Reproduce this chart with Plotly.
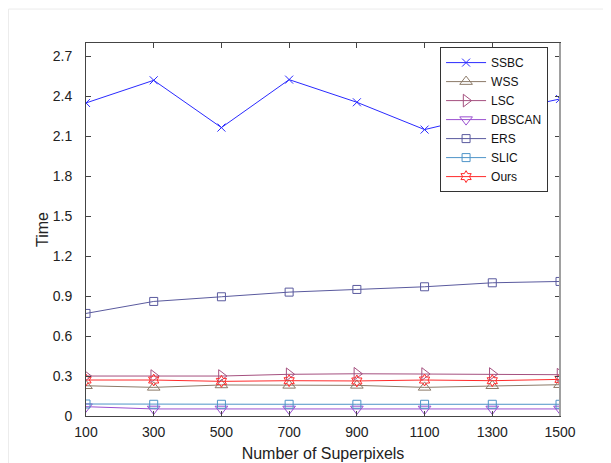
import plotly.graph_objects as go

x_vals = [100, 300, 500, 700, 900, 1100, 1300, 1500]
ssbc = [2.35, 2.52, 2.165, 2.525, 2.355, 2.15, 2.27, 2.38]
wss = [0.227, 0.215, 0.233, 0.23, 0.23, 0.215, 0.227, 0.235]
lsc = [0.30, 0.30, 0.30, 0.313, 0.317, 0.315, 0.315, 0.31]
dbscan = [0.07, 0.053, 0.053, 0.053, 0.053, 0.053, 0.053, 0.053]
ers = [0.77, 0.86, 0.895, 0.93, 0.95, 0.97, 1.0, 1.01]
slic = [0.09, 0.088, 0.088, 0.088, 0.088, 0.088, 0.088, 0.088]
ours = [0.27, 0.27, 0.26, 0.265, 0.263, 0.27, 0.265, 0.275]
y_ticks = [0, 0.3, 0.6, 0.9, 1.2, 1.5, 1.8, 2.1, 2.4, 2.7]
y_tick_text = ["0", "0.3", "0.6", "0.9", "1.2", "1.5", "1.8", "2.1", "2.4", "2.7"]

series = [
    ("SSBC", ssbc, "#2a2aff", "x-thin-open", 8),
    ("WSS", wss, "#8c7a68", "triangle-up-open", 11),
    ("LSC", lsc, "#a5507f", "triangle-right-open", 11),
    ("DBSCAN", dbscan, "#9a4fd0", "triangle-down-open", 11),
    ("ERS", ers, "#5a5a9e", "square-open", 8),
    ("SLIC", slic, "#4f94c8", "square-open", 8),
    ("Ours", ours, "#ff2a2a", "hexagram-open", 9),
]

FONT = "Liberation Sans, Arial, sans-serif"

fig = go.Figure()
for name, ys, color, sym, size in series:
    fig.add_trace(go.Scatter(
        x=x_vals, y=ys, name=name, mode="lines+markers",
        line=dict(color=color, width=1),
        marker=dict(symbol=sym, size=size, color=color, line=dict(color=color, width=1)),
    ))

axis_common = dict(
    showgrid=False, zeroline=False, showline=True, linecolor="#444", linewidth=1,
    mirror="ticks", ticks="inside", ticklen=5, tickcolor="#444", automargin=False,
    tickfont=dict(family=FONT, size=14, color="#222"),
)

fig.update_xaxes(range=[100, 1500], tickmode="array", tickvals=x_vals,
                 ticklabelstandoff=3,
                 title=dict(text="Number of Superpixels", standoff=9,
                            font=dict(family=FONT, size=16, color="#222")),
                 **axis_common)
fig.update_yaxes(range=[0, 2.8], tickmode="array",
                 tickvals=y_ticks, ticktext=y_tick_text,
                 ticklabelstandoff=10,
                 title=dict(text="Time", standoff=0,
                            font=dict(family=FONT, size=16, color="#222")),
                 **axis_common)

fig.update_layout(
    width=603, height=455,
    margin=dict(l=78, r=51, t=35, b=47),
    paper_bgcolor="white", plot_bgcolor="white",
    showlegend=True,
    legend=dict(x=0.747, y=0.989, xanchor="left", yanchor="top",
                bgcolor="white", bordercolor="#333", borderwidth=1,
                font=dict(family=FONT, size=12, color="#111"),
                tracegroupgap=0, itemwidth=40),
    shapes=[
        dict(type="line", xref="paper", yref="paper", x0=1, x1=1, y0=0, y1=1,
             line=dict(color="#a0a0a0", width=2)),
        dict(type="line", xref="paper", yref="paper", x0=-0.1635, x1=1.1076, y0=1.091, y1=1.091,
             line=dict(color="#ececec", width=1)),
        dict(type="line", xref="paper", yref="paper", x0=-0.1635, x1=-0.1635, y0=-0.126, y1=1.091,
             line=dict(color="#ececec", width=1)),
    ],
)

fig.write_html("out.html")
